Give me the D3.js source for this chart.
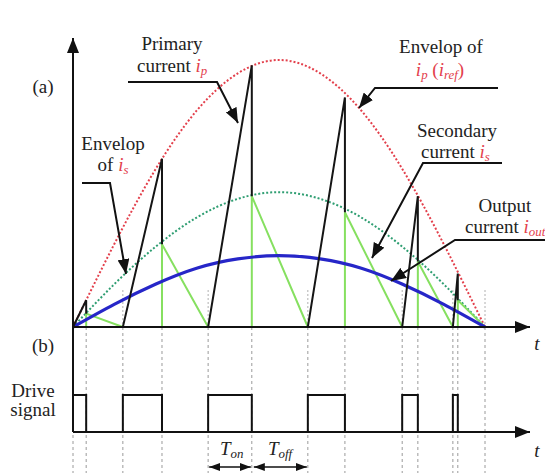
<!DOCTYPE html>
<html>
<head>
<meta charset="utf-8">
<script src="https://cdn.jsdelivr.net/npm/d3@7"></script>
<style>
  html, body { margin: 0; padding: 0; background: #fff; }
</style>
</head>
<body>
<div id="chart"></div>
<script>
// switching instants (time in % of the half line period)
const onStart = [0, 12.1, 32.8, 57.0, 79.9, 92.2];
const onEnd   = [3.2, 21.6, 43.4, 66.0, 83.7, 93.4];
const tEnd = 100;

// peak values reached at turn-off (normalised to envelope of ip)
const ipPeak = [0.10, 0.63, 0.98, 0.86, 0.49, 0.20];
const isPeak = [0.05, 0.31, 0.49, 0.43, 0.245, 0.10];

// envelopes sampled along the half period
const envT   = [0, 10, 20, 30, 40, 50, 60, 70, 80, 90, 100];
const envIp  = [0, 0.31, 0.59, 0.81, 0.95, 1.0, 0.95, 0.81, 0.59, 0.31, 0];
const envIs  = [0, 0.16, 0.30, 0.41, 0.48, 0.505, 0.48, 0.41, 0.30, 0.16, 0];
const envOut = [0, 0.085, 0.16, 0.22, 0.255, 0.267, 0.255, 0.22, 0.16, 0.085, 0];

const cfg = { width: 545, height: 473 };
const RED = "#e3404c", TEAL = "#2f9e72", LIME = "#86e060", BLUE = "#2626c8";
const FONT = "'Liberation Serif', 'DejaVu Serif', serif";

const x = d3.scaleLinear().domain([0, tEnd]).range([73, 485]);
const y = d3.scaleLinear().domain([0, 1]).range([327, 60]);
const yd = d3.scaleLinear().domain([0, 1]).range([432, 395]); // drive signal

const svg = d3.select("#chart")
  .append("svg")
  .attr("width", cfg.width)
  .attr("height", cfg.height)
  ;

// markers
const defs = svg.append("defs");
defs.append("marker")
  .attr("id", "arr")
  .attr("markerUnits", "userSpaceOnUse")
  .attr("markerWidth", 16).attr("markerHeight", 12)
  .attr("refX", 15).attr("refY", 6)
  .attr("orient", "auto-start-reverse")
  .append("path").attr("d", "M0,0 L15,6 L0,12 Z").attr("fill", "#111");
defs.append("marker")
  .attr("id", "arrSmall")
  .attr("markerUnits", "userSpaceOnUse")
  .attr("markerWidth", 12).attr("markerHeight", 10)
  .attr("refX", 11).attr("refY", 4)
  .attr("orient", "auto-start-reverse")
  .append("path").attr("d", "M0,0 L11,4 L0,8 Z").attr("fill", "#111");

// dashed guide lines
const allT = d3.sort(onStart.concat(onEnd).concat([tEnd]));
svg.append("g")
  .selectAll("line")
  .data(allT)
  .join("line")
    .attr("x1", d => x(d)).attr("x2", d => x(d))
    .attr("y1", y(0)).attr("y2", cfg.height)
    .attr("stroke", "#9a9a9a")
    .attr("stroke-width", 1)
    .attr("stroke-dasharray", "3,3")
  ;
svg.append("g")
  .selectAll("line")
  .data(onStart.slice(1).concat([tEnd]))
  .join("line")
    .attr("x1", d => x(d)).attr("x2", d => x(d))
    .attr("y1", 290).attr("y2", y(0))
    .attr("stroke", "#b0b0b0")
    .attr("stroke-width", 1)
    .attr("stroke-dasharray", "2,2")
  ;

// envelopes
const envLine = vals => d3.line()
  .x((d, i) => x(envT[i]))
  .y(d => y(d))
  .curve(d3.curveNatural)(vals);

svg.append("path").attr("d", envLine(envIp))
  .attr("fill", "none").attr("stroke", RED).attr("stroke-width", 2).attr("stroke-dasharray", "2,2");
svg.append("path").attr("d", envLine(envIs))
  .attr("fill", "none").attr("stroke", TEAL).attr("stroke-width", 2).attr("stroke-dasharray", "2,2");

// secondary current: jump at turn-off, then linear fall to next turn-on
const nextOn = onStart.slice(1).concat([tEnd]);
svg.append("g")
  .selectAll("path")
  .data(onEnd)
  .join("path")
    .attr("d", (d, i) => d3.line()([[x(d), y(0)], [x(d), y(isPeak[i])], [x(nextOn[i]), y(0)]]))
    .attr("fill", "none")
    .attr("stroke", LIME)
    .attr("stroke-width", 2)
  ;

// output current
svg.append("path").attr("d", envLine(envOut))
  .attr("fill", "none").attr("stroke", BLUE).attr("stroke-width", 3.2);

// primary current: ramp during Ton, falls at turn-off
svg.append("g")
  .selectAll("path")
  .data(onStart)
  .join("path")
    .attr("d", (d, i) => d3.line()([[x(d), y(0)], [x(onEnd[i]), y(ipPeak[i])], [x(onEnd[i]), y(isPeak[i])]]))
    .attr("fill", "none")
    .attr("stroke", "#151515")
    .attr("stroke-width", 2)
  ;

// axes
svg.append("line")
  .attr("x1", x(0)).attr("x2", x(0)).attr("y1", yd(0)).attr("y2", 38)
  .attr("stroke", "#111").attr("stroke-width", 2).attr("marker-end", "url(#arr)");
svg.append("line")
  .attr("x1", x(0)).attr("x2", 530).attr("y1", y(0)).attr("y2", y(0))
  .attr("stroke", "#111").attr("stroke-width", 2).attr("marker-end", "url(#arr)");
svg.append("line")
  .attr("x1", x(0)).attr("x2", 530).attr("y1", yd(0)).attr("y2", yd(0))
  .attr("stroke", "#111").attr("stroke-width", 2).attr("marker-end", "url(#arr)");

// drive signal
const drivePts = [];
onStart.forEach((d, i) => {
  drivePts.push([d, 0], [d, 1], [onEnd[i], 1], [onEnd[i], 0]);
});
svg.append("path")
  .attr("d", d3.line().x(d => x(d[0])).y(d => yd(d[1]))(drivePts))
  .attr("fill", "none").attr("stroke", "#111").attr("stroke-width", 2);

// Ton / Toff arrows
const tonIdx = 2;
svg.append("line")
  .attr("x1", x(onStart[tonIdx]) + 1).attr("x2", x(onEnd[tonIdx]) - 1).attr("y1", 467).attr("y2", 467)
  .attr("stroke", "#111").attr("stroke-width", 1.5)
  .attr("marker-start", "url(#arrSmall)").attr("marker-end", "url(#arrSmall)");
svg.append("line")
  .attr("x1", x(onEnd[tonIdx]) + 2).attr("x2", x(onStart[tonIdx + 1]) - 1).attr("y1", 467).attr("y2", 467)
  .attr("stroke", "#111").attr("stroke-width", 1.5)
  .attr("marker-start", "url(#arrSmall)").attr("marker-end", "url(#arrSmall)");

// leader lines for annotations
const leaders = [
  [[128, 82], [217, 82], [238, 123]],
  [[82, 183], [110, 183], [126, 274]],
  [[498, 88], [375, 88], [359, 108]],
  [[502, 163], [423, 163], [372, 258]],
  [[545, 240], [455, 240], [391, 281]],
];
svg.append("g")
  .selectAll("path")
  .data(leaders)
  .join("path")
    .attr("d", d => d3.line()(d))
    .attr("fill", "none")
    .attr("stroke", "#111")
    .attr("stroke-width", 2)
    .attr("marker-end", "url(#arr)")
  ;

// text helpers
function label(xp, yp, parts, anchor = "middle", size = 19) {
  const t = svg.append("text")
    .attr("x", xp).attr("y", yp)
    .attr("text-anchor", anchor)
    .attr("font-family", FONT)
    .attr("fill", "#222")
    .attr("font-size", size);
  parts.forEach(p => {
    const s = t.append("tspan").text(p.t);
    if (p.red) s.attr("fill", RED);
    if (p.it) s.attr("font-style", "italic");
    if (p.sub) s.attr("baseline-shift", "-25%").attr("font-size", size * 0.68);
  });
  return t;
}

label(43, 93, [{ t: "(a)" }]);
label(43, 352, [{ t: "(b)" }]);
label(172, 50, [{ t: "Primary" }]);
label(137, 72, [{ t: "current " }, { t: "i", red: 1, it: 1 }, { t: "p", red: 1, it: 1, sub: 1 }], "start");
label(113, 150, [{ t: "Envelop" }]);
label(113, 171, [{ t: "of " }, { t: "i", red: 1, it: 1 }, { t: "s", red: 1, it: 1, sub: 1 }]);
label(441, 53, [{ t: "Envelop of" }]);
label(440, 76, [
  { t: "i", red: 1, it: 1 }, { t: "p", red: 1, it: 1, sub: 1 },
  { t: " (", red: 1 }, { t: "i", red: 1, it: 1 }, { t: "ref", red: 1, it: 1, sub: 1 }, { t: ")", red: 1 }
]);
label(457, 137, [{ t: "Secondary" }]);
label(421, 158, [{ t: "current " }, { t: "i", red: 1, it: 1 }, { t: "s", red: 1, it: 1, sub: 1 }], "start");
label(505, 212, [{ t: "Output" }]);
label(465, 233, [{ t: "current " }, { t: "i", red: 1, it: 1 }, { t: "out", red: 1, it: 1, sub: 1 }], "start");
label(33, 397, [{ t: "Drive" }]);
label(33, 416, [{ t: "signal" }]);
label(537, 350, [{ t: "t", it: 1 }]);
label(537, 457, [{ t: "t", it: 1 }]);
label(220, 455, [{ t: "T", it: 1 }, { t: "on", it: 1, sub: 1 }], "start");
label(268, 455, [{ t: "T", it: 1 }, { t: "off", it: 1, sub: 1 }], "start");
</script>
</body>
</html>
